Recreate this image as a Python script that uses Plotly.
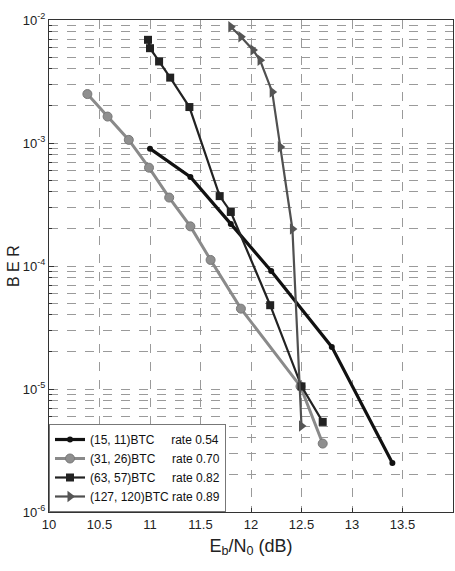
import plotly.graph_objects as go

# ---- data ----
s1_name = "(15, 11)BTC"
s1_rate = "rate 0.54"
s1_x = [11.0, 11.4, 11.8, 12.2, 12.8, 13.4]
s1_y = [9.0e-4, 5.3e-4, 2.2e-4, 9.1e-5, 2.2e-5, 2.5e-6]

s2_name = "(31, 26)BTC"
s2_rate = "rate 0.70"
s2_x = [10.38, 10.58, 10.79, 10.99, 11.19, 11.4, 11.6, 11.9, 12.49, 12.71]
s2_y = [2.5e-3, 1.64e-3, 1.06e-3, 6.3e-4, 3.6e-4, 2.1e-4, 1.12e-4, 4.5e-5, 1.05e-5, 3.6e-6]

s3_name = "(63, 57)BTC"
s3_rate = "rate 0.82"
s3_x = [10.98, 11.0, 11.09, 11.2, 11.39, 11.69, 11.8, 12.19, 12.5, 12.71]
s3_y = [6.9e-3, 5.9e-3, 4.6e-3, 3.4e-3, 1.96e-3, 3.7e-4, 2.75e-4, 4.8e-5, 1.05e-5, 5.4e-6]

s4_name = "(127, 120)BTC"
s4_rate = "rate 0.89"
s4_x = [11.8, 11.9, 12.02, 12.09, 12.21, 12.29, 12.41, 12.5]
s4_y = [8.8e-3, 7.3e-3, 5.7e-3, 4.7e-3, 2.6e-3, 9.3e-4, 2.0e-4, 5.0e-6]

x_ticks = [10, 10.5, 11, 11.5, 12, 12.5, 13, 13.5, 14]
x_ticklabels = ["10", "10.5", "11", "11.5", "12", "12.5", "13", "13.5", "14"]

y_ticks = [1e-6, 1e-5, 1e-4, 1e-3, 1e-2]
y_ticklabels = ["10<sup>-6</sup>", "10<sup>-5</sup>", "10<sup>-4</sup>",
                "10<sup>-3</sup>", "10<sup>-2</sup>"]

FONT = "Liberation Sans Narrow, Arial Narrow, Liberation Sans, Arial"
NB = "\u00a0"

def label(name, rate, pad):
    return name + NB * pad + rate

fig = go.Figure()
fig.add_trace(go.Scatter(
    x=s1_x, y=s1_y, mode="lines+markers", name=label(s1_name, s1_rate, 5),
    line=dict(color="#111111", width=3.2),
    marker=dict(symbol="circle", size=6, color="#111111"),
))
fig.add_trace(go.Scatter(
    x=s2_x, y=s2_y, mode="lines+markers", name=label(s2_name, s2_rate, 5),
    line=dict(color="#8a8a8a", width=3),
    marker=dict(symbol="circle", size=9, color="#8f8f8f", line=dict(color="#777777", width=1)),
))
fig.add_trace(go.Scatter(
    x=s3_x, y=s3_y, mode="lines+markers", name=label(s3_name, s3_rate, 5),
    line=dict(color="#222222", width=2.2),
    marker=dict(symbol="square", size=8, color="#222222"),
))
fig.add_trace(go.Scatter(
    x=s4_x, y=s4_y, mode="lines+markers", name=label(s4_name, s4_rate, 1),
    line=dict(color="#505050", width=2.2),
    marker=dict(symbol="triangle-right", size=10, color="#555555"),
))

grid = dict(gridcolor="#9a9a9a", griddash="dash", gridwidth=1)

fig.update_layout(
    width=455, height=571,
    margin=dict(l=49, r=2, t=20, b=59, autoexpand=False),
    paper_bgcolor="white", plot_bgcolor="white",
    font=dict(family=FONT, size=13, color="#222222"),
    showlegend=True,
    legend=dict(
        x=0, y=0, xanchor="left", yanchor="bottom",
        bgcolor="white", bordercolor="#777777", borderwidth=1,
        font=dict(family=FONT, size=12, color="#111111"),
        itemwidth=30, tracegroupgap=0,
    ),
    xaxis=dict(
        range=[10, 14], tickmode="array", tickvals=x_ticks, ticktext=x_ticklabels,
        showgrid=True, **grid, automargin=False,
        showline=True, linecolor="#333333", linewidth=1, mirror=True,
        ticks="inside", ticklen=4, tickcolor="#333333",
        zeroline=False,
        title=dict(text="E<sub>b</sub>/N<sub>0</sub> (dB)", font=dict(size=18), standoff=8),
        tickfont=dict(size=13),
    ),
    yaxis=dict(
        type="log", range=[-6, -2], tickmode="array", tickvals=y_ticks, ticktext=y_ticklabels,
        showgrid=True, **grid, automargin=False,
        minor=dict(dtick="D1", showgrid=True, gridcolor="#9a9a9a", griddash="dash",
                   ticks="inside", ticklen=3, tickcolor="#333333"),
        showline=True, linecolor="#333333", linewidth=1, mirror=True,
        ticks="inside", ticklen=5, tickcolor="#333333",
        zeroline=False,
        title=dict(text=""),
        tickfont=dict(size=13),
    ),
    annotations=[dict(
        text="B E R", textangle=-90, xref="paper", yref="paper",
        x=0, y=0.5, xanchor="center", yanchor="middle", xshift=-36,
        showarrow=False, font=dict(family=FONT, size=16, color="#222222"),
    )],
)

fig.write_html("out.html")
